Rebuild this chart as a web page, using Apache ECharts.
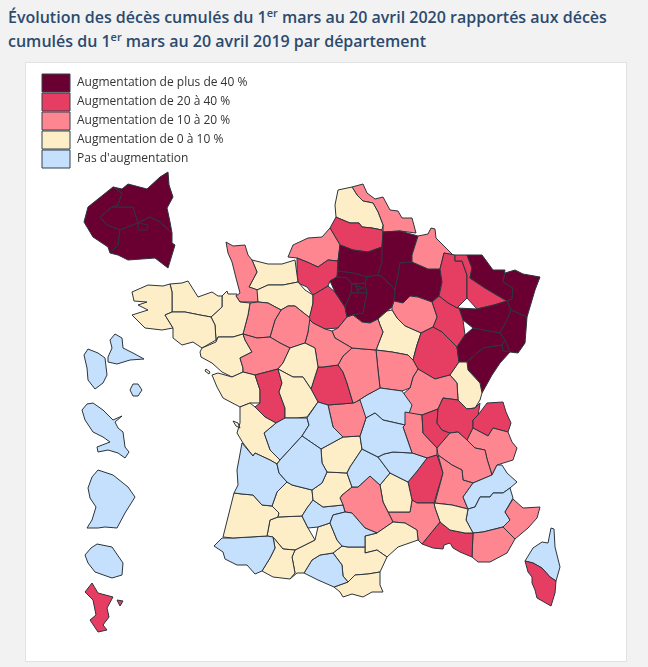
<!DOCTYPE html>
<html lang="fr">
<head>
<meta charset="utf-8">
<title>Décès cumulés par département</title>
<script src="https://cdn.jsdelivr.net/npm/echarts@6/dist/echarts.min.js"></script>
<style>
  html, body { margin: 0; padding: 0; background: #f2f2f2; overflow: hidden; }
  #page { position: relative; width: 648px; height: 667px; font-family: "Open Sans", sans-serif; }
  h1 { position: absolute; left: 8px; top: 5px; width: 636px; margin: 0; font-size: 16px; line-height: 24px; font-weight: 600; color: #2c4a6e; }
  h1 sup { font-size: 11px; line-height: 0; }
  #card { position: absolute; left: 25px; top: 62px; width: 602px; height: 600px; background: #fff; border: 1px solid #e2e2e2; box-sizing: border-box; }
  #chart { position: absolute; left: 0; top: 0; width: 648px; height: 667px; }
</style>
</head>
<body>
<div id="page">
  <h1>Évolution des décès cumulés du 1<sup>er</sup> mars au 20 avril 2020 rapportés aux décès cumulés du 1<sup>er</sup> mars au 20 avril 2019 par département</h1>
  <div id="card"></div>
  <div id="chart"></div>
</div>
<script>
const LEVEL_LABELS = [
  'Augmentation de plus de 40 %',
  'Augmentation de 20 à 40 %',
  'Augmentation de 10 à 20 %',
  'Augmentation de 0 à 10 %',
  'Pas d\'augmentation',
];
const LEVEL_COLORS = ['#6a0032', '#e53e62', '#fe8690', '#fdeec8', '#c4e0fd'];

const upOver40 = ['Aisne', 'Doubs', 'Essonne', 'Marne', 'Moselle', 'Oise', 'Paris', 'Bas-Rhin', 'Haut-Rhin', 'Haute-Saône', 'Seine-et-Marne', 'Hauts-de-Seine', 'Seine-Saint-Denis', 'Val-de-Marne', 'Val-d\'Oise', 'Vosges', 'Yvelines', 'Territoire de Belfort', 'Paris (zoom)', 'Hauts-de-Seine (zoom)', 'Seine-Saint-Denis (zoom)', 'Val-de-Marne (zoom)'];
const up20to40 = ['Ain', 'Ardèche', 'Bouches-du-Rhône', 'Corse-du-Sud', 'Côte-d\'Or', 'Deux-Sèvres', 'Eure', 'Eure-et-Loir', 'Indre', 'Haute-Marne', 'Meurthe-et-Moselle', 'Meuse', 'Rhône', 'Haute-Savoie', 'Somme', 'Mayotte'];
const up10to20 = ['Alpes-Maritimes', 'Ardennes', 'Aube', 'Aveyron', 'Cher', 'Creuse', 'Drôme', 'Gard', 'Isère', 'Loir-et-Cher', 'Loire', 'Loiret', 'Maine-et-Loire', 'Manche', 'Mayenne', 'Nièvre', 'Nord', 'Saône-et-Loire', 'Sarthe', 'Savoie', 'Seine-Maritime', 'Var'];
const up0to10 = ['Aude', 'Calvados', 'Charente-Maritime', 'Corrèze', 'Côtes-d\'Armor', 'Finistère', 'Haute-Garonne', 'Gers', 'Hérault', 'Ille-et-Vilaine', 'Indre-et-Loire', 'Jura', 'Landes', 'Loire-Atlantique', 'Lot', 'Lot-et-Garonne', 'Lozère', 'Morbihan', 'Orne', 'Pas-de-Calais', 'Hautes-Pyrénées', 'Pyrénées-Orientales', 'Vaucluse', 'Vendée', 'Vienne', 'Yonne'];
const noIncrease = ['Allier', 'Alpes-de-Haute-Provence', 'Hautes-Alpes', 'Ariège', 'Cantal', 'Charente', 'Haute-Corse', 'Dordogne', 'Gironde', 'Haute-Loire', 'Puy-de-Dôme', 'Pyrénées-Atlantiques', 'Tarn', 'Tarn-et-Garonne', 'Haute-Vienne', 'Guadeloupe', 'Martinique', 'Guyane', 'La Réunion'];

// contours
const deptOutlines = {
  'Nord': [[[352,187],[363,184],[367,193],[375,199],[383,197],[390,210],[398,211],[402,218],[412,218],[416,233],[400,231],[383,232],[383,225],[378,212],[373,203],[363,201],[357,195]]],
  'Pas-de-Calais': [[[335,205],[338,190],[352,187],[357,195],[363,201],[373,203],[378,212],[383,225],[382,230],[372,228],[362,227],[359,223],[350,223],[338,218],[336,217]]],
  'Somme': [[[336,217],[338,218],[350,223],[359,223],[362,227],[372,228],[382,230],[383,232],[382,247],[368,252],[353,250],[340,245],[330,228]]],
  'Seine-Maritime': [[[330,228],[340,245],[338,261],[328,260],[318,267],[307,262],[297,258],[288,257],[293,245],[308,238],[322,237]]],
  'Eure': [[[297,258],[307,262],[318,267],[328,260],[338,261],[337,277],[330,281],[328,286],[313,295],[307,287],[298,283],[297,272]]],
  'Calvados': [[[252,260],[268,264],[282,264],[295,260],[298,282],[283,285],[268,285],[257,290],[249,287],[257,272]]],
  'Manche': [[[226,242],[233,246],[245,245],[248,255],[252,260],[257,272],[249,287],[258,290],[258,302],[240,302],[236,296],[240,293],[236,278],[232,262],[228,253]]],
  'Orne': [[[257,290],[268,285],[283,285],[298,282],[305,290],[313,295],[313,303],[310,318],[295,306],[288,306],[281,310],[268,303],[258,302]]],
  'Eure-et-Loir': [[[313,295],[328,286],[335,292],[345,307],[347,317],[338,328],[325,329],[313,323],[309,319],[313,303]]],
  'Oise': [[[340,245],[353,250],[368,252],[382,247],[382,262],[378,275],[367,277],[353,273],[338,271],[338,261]]],
  'Val-d\'Oise': [[[338,271],[353,273],[367,277],[365,283],[352,284],[347,278],[337,277]]],
  'Yvelines': [[[337,277],[347,278],[352,284],[351,293],[345,307],[335,292],[330,281]]],
  'Hauts-de-Seine': [[[352,284],[356,284],[356,287],[358,290],[358,293],[351,293]]],
  'Paris': [[[356,287],[360,286],[362,288],[358,290]]],
  'Seine-Saint-Denis': [[[356,284],[365,283],[366,288],[362,288],[360,286],[356,287]]],
  'Val-de-Marne': [[[358,290],[362,288],[366,288],[367,293],[358,293]]],
  'Essonne': [[[351,293],[358,293],[367,293],[363,313],[353,315],[347,317],[345,307]]],
  'Seine-et-Marne': [[[367,277],[378,275],[382,277],[393,287],[395,290],[394,301],[392,307],[387,311],[378,319],[370,323],[362,322],[353,315],[363,313],[367,293],[366,288],[365,283]]],
  'Aisne': [[[383,232],[400,231],[418,236],[412,255],[412,262],[400,263],[398,275],[395,290],[393,287],[382,277],[378,275],[382,262],[382,247]]],
  'Marne': [[[400,263],[412,262],[428,269],[440,269],[442,282],[439,296],[432,302],[418,297],[410,296],[403,303],[394,301],[395,290],[398,275]]],
  'Ardennes': [[[418,236],[428,234],[431,228],[435,229],[436,238],[453,255],[444,253],[440,269],[428,269],[412,262],[412,255]]],
  'Meuse': [[[444,253],[455,255],[455,261],[462,261],[467,275],[467,283],[467,298],[457,308],[448,303],[439,296],[442,282],[440,269]]],
  'Meurthe-et-Moselle': [[[455,255],[467,255],[472,268],[470,278],[485,288],[507,301],[494,305],[477,309],[467,298],[467,283],[467,275],[462,261],[455,261]]],
  'Moselle': [[[467,255],[482,255],[493,270],[505,270],[503,282],[513,288],[512,299],[507,301],[485,288],[470,278],[472,268]]],
  'Bas-Rhin': [[[505,273],[515,270],[523,274],[540,277],[535,290],[527,317],[511,310],[507,301],[512,299],[513,288],[503,282]]],
  'Vosges': [[[457,308],[477,309],[494,305],[507,301],[511,310],[507,320],[500,333],[473,328],[463,320],[459,308]]],
  'Haut-Rhin': [[[511,310],[527,317],[525,343],[518,353],[510,352],[505,340],[500,333],[507,320]]],
  'Haute-Marne': [[[432,302],[439,296],[448,303],[457,308],[459,308],[463,320],[465,335],[457,347],[442,332],[433,327],[437,317]]],
  'Aube': [[[392,307],[394,301],[403,303],[410,296],[418,297],[432,302],[437,317],[433,327],[421,333],[405,326],[397,318],[392,310]]],
  'Yonne': [[[378,319],[387,311],[392,310],[397,318],[405,326],[421,333],[417,345],[413,360],[408,355],[392,352],[376,350],[383,332],[380,325]]],
  'Côte-d\'Or': [[[421,333],[433,327],[442,332],[457,347],[459,362],[450,375],[435,379],[418,369],[413,360],[417,345]]],
  'Haute-Saône': [[[465,335],[473,328],[500,333],[505,340],[502,345],[483,348],[467,362],[459,362],[457,347]]],
  'Territoire de Belfort': [[[505,340],[510,352],[503,351],[502,345]]],
  'Doubs': [[[467,362],[483,348],[502,345],[503,351],[510,352],[500,363],[492,375],[482,393],[480,383],[468,370]]],
  'Jura': [[[459,362],[467,362],[468,370],[480,383],[482,393],[480,400],[475,408],[467,409],[458,400],[457,383],[450,375]]],
  'Saône-et-Loire': [[[418,369],[435,379],[450,375],[457,383],[458,400],[443,398],[438,409],[422,415],[410,415],[402,395],[410,388],[413,377]]],
  'Nièvre': [[[376,350],[392,352],[408,355],[413,360],[418,369],[413,377],[410,388],[402,391],[395,390],[380,388],[378,370]]],
  'Allier': [[[356,402],[367,395],[380,388],[395,390],[402,391],[412,405],[405,425],[383,420],[375,413],[366,418]]],
  'Loire': [[[405,412],[422,415],[423,433],[437,448],[437,455],[427,458],[412,453],[403,427],[405,425]]],
  'Rhône': [[[422,415],[438,409],[437,423],[442,430],[450,433],[437,448],[423,433]]],
  'Ain': [[[438,409],[443,398],[458,400],[467,409],[475,408],[480,403],[478,417],[473,420],[473,428],[467,440],[458,432],[450,433],[442,430],[437,423]]],
  'Haute-Savoie': [[[487,403],[503,402],[506,412],[511,423],[508,432],[493,428],[488,436],[473,428],[473,420],[478,415]]],
  'Savoie': [[[473,428],[488,436],[493,428],[508,432],[512,442],[517,448],[513,460],[497,465],[492,475],[487,459],[485,450],[475,448],[467,440]]],
  'Isère': [[[450,433],[458,432],[467,440],[475,448],[485,450],[487,459],[492,475],[473,483],[463,480],[462,470],[452,465],[438,455],[437,448]]],
  'Ardèche': [[[408,482],[418,470],[427,458],[437,455],[438,455],[443,473],[434,503],[417,503],[412,500]]],
  'Drôme': [[[438,455],[452,465],[462,470],[463,480],[473,483],[463,497],[468,509],[452,505],[435,503],[443,473]]],
  'Hautes-Alpes': [[[473,483],[492,475],[497,465],[502,465],[507,473],[517,482],[510,488],[503,493],[493,493],[490,497],[480,497],[475,507],[468,509],[463,497]]],
  'Alpes-de-Haute-Provence': [[[468,509],[475,507],[480,497],[490,497],[493,493],[503,493],[510,488],[513,498],[505,512],[510,520],[503,527],[483,532],[473,533],[466,520]]],
  'Alpes-Maritimes': [[[513,499],[523,508],[540,507],[537,518],[528,528],[515,539],[503,527],[510,520],[505,512]]],
  'Var': [[[473,533],[483,532],[503,527],[515,539],[507,553],[490,562],[478,562],[472,557]]],
  'Bouches-du-Rhône': [[[440,522],[450,530],[465,533],[473,533],[472,557],[460,552],[453,548],[450,543],[444,545],[443,549],[433,548],[422,544]]],
  'Vaucluse': [[[434,503],[452,505],[468,509],[466,520],[473,533],[465,533],[450,530],[440,522],[435,508]]],
  'Gard': [[[388,512],[410,512],[412,500],[417,503],[434,503],[435,508],[440,522],[422,544],[418,540],[417,530],[405,523],[393,522]]],
  'Lozère': [[[380,485],[390,473],[400,478],[408,482],[412,500],[410,512],[388,512],[383,502]]],
  'Aveyron': [[[340,498],[342,495],[352,487],[358,487],[370,476],[380,485],[383,502],[388,512],[393,522],[377,533],[365,528],[352,513],[345,512],[343,505]]],
  'Hérault': [[[365,547],[365,536],[377,533],[393,522],[405,523],[417,530],[418,540],[398,547],[387,557],[377,550],[365,553]]],
  'Aude': [[[333,553],[342,546],[348,547],[365,547],[365,553],[377,550],[387,557],[380,572],[368,574],[355,575],[348,582],[343,576],[342,565]]],
  'Pyrénées-Orientales': [[[334,587],[348,582],[355,575],[368,574],[380,572],[380,585],[383,592],[372,592],[363,597],[352,594],[343,597],[340,592]]],
  'Ariège': [[[304,573],[312,560],[320,555],[333,553],[342,565],[343,576],[348,582],[334,587],[318,580]]],
  'Haute-Garonne': [[[290,579],[295,573],[292,557],[295,550],[315,540],[318,527],[330,523],[337,540],[342,546],[333,553],[320,555],[312,560],[304,573],[297,573]]],
  'Gers': [[[267,536],[270,520],[278,517],[302,516],[308,528],[315,540],[295,550],[283,549],[273,537]]],
  'Hautes-Pyrénées': [[[273,537],[283,549],[295,550],[292,557],[295,573],[290,579],[273,577],[262,571],[270,558],[275,548]]],
  'Pyrénées-Atlantiques': [[[214,546],[222,538],[233,538],[250,537],[267,536],[273,537],[275,548],[270,558],[262,571],[255,574],[247,565],[237,565],[225,559],[223,552]]],
  'Landes': [[[223,537],[234,493],[242,494],[253,495],[262,505],[272,506],[279,513],[278,517],[270,520],[267,536],[250,537],[233,538]]],
  'Lot-et-Garonne': [[[272,506],[277,492],[287,482],[292,485],[312,490],[313,500],[307,508],[302,516],[278,517],[279,513]]],
  'Tarn-et-Garonne': [[[313,500],[323,507],[343,505],[345,512],[333,515],[330,523],[318,527],[308,528],[302,516],[307,508]]],
  'Tarn': [[[330,523],[333,515],[345,512],[352,513],[365,528],[377,533],[365,536],[365,547],[348,547],[342,546],[337,540]]],
  'Lot': [[[312,490],[322,483],[327,472],[347,473],[352,487],[342,495],[340,498],[343,505],[323,507],[313,500]]],
  'Corrèze': [[[321,449],[343,437],[360,436],[362,449],[350,467],[347,473],[327,472],[322,463]]],
  'Cantal': [[[350,467],[362,449],[378,457],[390,473],[380,485],[370,476],[358,487],[352,487],[347,473]]],
  'Haute-Loire': [[[378,457],[384,454],[393,452],[412,453],[427,458],[418,470],[408,482],[400,478],[390,473]]],
  'Puy-de-Dôme': [[[360,436],[366,418],[375,413],[383,420],[405,425],[403,427],[412,453],[393,452],[384,454],[378,457],[362,449]]],
  'Creuse': [[[328,405],[353,403],[360,400],[366,418],[360,436],[343,437],[333,427]]],
  'Indre': [[[311,389],[318,367],[323,367],[338,365],[343,372],[347,383],[353,403],[328,405],[318,402]]],
  'Cher': [[[338,365],[343,356],[352,348],[376,350],[378,370],[380,388],[367,395],[356,402],[353,403],[347,383],[343,372]]],
  'Loiret': [[[347,317],[353,315],[362,322],[370,323],[378,319],[380,325],[383,332],[376,350],[352,348],[335,338],[332,331],[338,328]]],
  'Loir-et-Cher': [[[309,319],[313,323],[325,329],[332,331],[335,338],[352,348],[343,356],[338,365],[323,367],[318,367],[315,348],[305,343],[308,332]]],
  'Sarthe': [[[281,310],[288,306],[295,306],[310,318],[308,332],[305,343],[290,348],[280,343],[270,337],[275,320]]],
  'Mayenne': [[[250,303],[258,302],[268,303],[281,310],[275,320],[270,337],[257,338],[243,334],[248,315]]],
  'Ille-et-Vilaine': [[[222,296],[227,291],[228,294],[237,294],[236,296],[240,302],[250,303],[248,315],[243,334],[233,337],[218,337],[216,340],[215,325],[211,317],[222,307]]],
  'Côtes-d\'Armor': [[[170,284],[182,283],[188,281],[198,297],[212,292],[218,296],[222,296],[222,307],[211,317],[200,315],[185,312],[172,312],[172,292]]],
  'Finistère': [[[132,292],[148,285],[163,286],[170,284],[172,292],[172,312],[165,315],[173,328],[162,330],[145,328],[132,315],[148,310],[138,305],[147,302],[134,301]]],
  'Morbihan': [[[165,315],[172,312],[185,312],[200,315],[211,317],[215,325],[216,340],[202,348],[193,342],[182,345],[173,338],[173,328]]],
  'Loire-Atlantique': [[[200,352],[202,348],[216,342],[218,337],[233,337],[243,334],[245,340],[252,352],[240,358],[243,368],[243,372],[232,377],[222,372],[212,363],[201,357]]],
  'Maine-et-Loire': [[[243,334],[257,338],[270,337],[280,343],[290,348],[283,363],[278,369],[255,375],[243,372],[243,368],[240,358],[252,352],[245,340]]],
  'Vendée': [[[212,375],[218,373],[232,377],[243,372],[255,375],[260,390],[260,403],[250,403],[240,407],[223,398],[217,387]], [[206,369],[210,372],[209,374],[205,371]]],
  'Deux-Sèvres': [[[255,375],[278,369],[282,383],[279,392],[285,408],[285,418],[276,423],[265,417],[255,407],[260,403],[260,390]]],
  'Indre-et-Loire': [[[290,348],[305,343],[315,348],[318,367],[311,389],[303,377],[293,377],[278,369],[283,363]]],
  'Vienne': [[[278,369],[293,377],[303,377],[311,389],[318,402],[307,417],[297,418],[285,418],[285,408],[279,392],[282,383]]],
  'Charente': [[[276,423],[285,418],[307,418],[309,425],[302,436],[280,460],[270,450],[264,433]]],
  'Haute-Vienne': [[[307,418],[318,402],[328,405],[333,427],[343,437],[321,449],[302,436],[309,425]]],
  'Charente-Maritime': [[[240,407],[250,403],[255,407],[265,417],[276,423],[264,433],[270,450],[280,460],[277,464],[270,460],[255,453],[253,456],[243,443],[237,433],[240,423],[240,412]], [[233,421],[238,423],[240,428],[236,426]]],
  'Gironde': [[[242,443],[253,456],[255,453],[270,460],[277,464],[279,473],[287,482],[277,492],[272,506],[262,505],[253,495],[242,494],[234,493],[238,485],[237,470]]],
  'Dordogne': [[[277,464],[280,460],[302,436],[321,449],[322,463],[327,472],[322,483],[312,490],[292,485],[287,482],[279,473]]],
  'Haute-Corse': [[[525,561],[533,548],[542,542],[548,543],[551,528],[554,529],[555,547],[560,567],[556,581],[550,577],[542,568],[533,563]]],
  'Corse-du-Sud': [[[525,561],[533,563],[542,568],[550,577],[556,581],[555,593],[551,606],[537,598],[535,590],[532,583],[532,577],[528,572]]],
  'Paris (zoom)': [[[100,217],[112,207],[133,207],[138,223],[120,230],[107,225]]],
  'Hauts-de-Seine (zoom)': [[[113,187],[122,193],[118,205],[112,207],[100,217],[107,225],[120,230],[118,245],[110,253],[108,247],[93,237],[84,222],[88,207],[103,195]]],
  'Seine-Saint-Denis (zoom)': [[[113,187],[122,189],[128,184],[147,189],[160,177],[168,172],[169,185],[173,197],[167,208],[170,222],[172,233],[160,222],[150,217],[138,223],[133,207],[112,207],[118,205],[122,193]]],
  'Val-de-Marne (zoom)': [[[120,230],[138,223],[150,217],[160,222],[172,233],[172,243],[175,245],[168,268],[155,258],[128,260],[118,255],[110,253],[118,245]], [[138,223],[148,225],[147,230],[138,230]]],
  'Guadeloupe': [[[84,355],[88,349],[98,353],[105,358],[107,375],[103,383],[95,389],[88,380],[87,368]], [[108,357],[112,348],[110,340],[115,334],[122,338],[123,348],[133,353],[144,359],[130,360],[117,364],[108,362]], [[130,390],[133,384],[138,384],[142,390],[138,396],[133,396]]],
  'Martinique': [[[82,410],[87,404],[93,403],[103,410],[113,420],[122,416],[115,422],[118,428],[123,432],[125,447],[129,452],[125,458],[118,453],[108,450],[98,452],[97,447],[110,442],[103,437],[93,432],[85,420]]],
  'Guyane': [[[88,488],[92,477],[98,470],[113,475],[128,487],[135,497],[125,513],[117,528],[105,527],[98,528],[87,528],[92,520],[96,507],[90,498]]],
  'La Réunion': [[[85,555],[91,548],[97,544],[112,547],[123,563],[122,575],[112,578],[95,572],[88,563]]],
  'Mayotte': [[[85,592],[92,583],[98,593],[113,597],[107,608],[109,617],[103,625],[107,630],[98,632],[90,620],[96,615],[93,600]], [[117,600],[123,601],[120,606]]],
};

const levelGroups = [upOver40, up20to40, up10to20, up0to10, noIncrease];

function buildGeoJson() {
  return {
    type: 'FeatureCollection',
    features: Object.keys(deptOutlines).map((name) => ({
      type: 'Feature',
      properties: { name },
      geometry: {
        type: 'MultiPolygon',
        coordinates: deptOutlines[name].map((ring) => [ring.concat([ring[0]])]),
      },
    })),
  };
}

function buildData() {
  const rows = [];
  levelGroups.forEach((names, level) => {
    names.forEach((name) => {
      if (deptOutlines[name]) rows.push({ name, value: level });
    });
  });
  return rows;
}

echarts.registerMap('france', buildGeoJson());

const chart = echarts.init(document.getElementById('chart'), null, { renderer: 'canvas' });
const legendTop = 74;
const legendStep = 19;

chart.setOption({
  animation: false,
  backgroundColor: 'transparent',
  visualMap: {
    type: 'piecewise',
    left: 42,
    top: legendTop,
    orient: 'vertical',
    padding: 0,
    itemWidth: 28,
    itemHeight: 18,
    itemGap: legendStep - 18,
    itemSymbol: 'rect',
    textGap: 7,
    selectedMode: false,
    hoverLink: false,
    inverse: true,
    textStyle: { color: '#333', fontFamily: '"Open Sans"', fontSize: 12 },
    pieces: LEVEL_LABELS.map((label, i) => ({ value: i, label, color: LEVEL_COLORS[i] })),
  },
  graphic: LEVEL_LABELS.map((label, i) => ({
    type: 'rect',
    silent: true,
    shape: { x: 42, y: legendTop + i * legendStep, width: 28, height: 18 },
    style: { fill: 'none', stroke: '#33414a', lineWidth: 1 },
    z: 20,
  })),
  series: [{
    type: 'map',
    map: 'france',
    silent: true,
    roam: false,
    projection: { project: (p) => p, unproject: (p) => p },
    boundingCoords: [[0, 0], [648, 667]],
    layoutCenter: ['50%', '50%'],
    layoutSize: 667,
    label: { show: false },
    itemStyle: { borderColor: '#2b343c', borderWidth: 1 },
    emphasis: { disabled: true },
    select: { disabled: true },
    data: buildData(),
  }],
});
</script>
</body>
</html>
